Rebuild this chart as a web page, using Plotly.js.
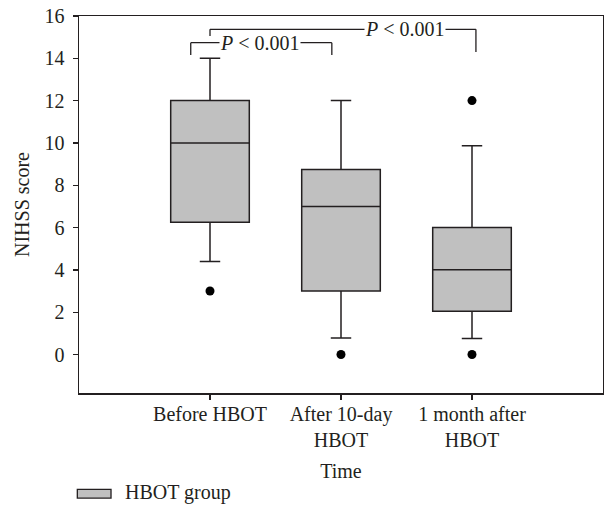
<!DOCTYPE html>
<html>
<head>
<meta charset="utf-8">
<script src="https://cdn.plot.ly/plotly-3.0.1.min.js"></script>
<style>html,body{margin:0;padding:0;background:#fff;}#chart{width:604px;height:508px;}</style>
</head>
<body>
<div id="chart"></div>
<script>
const categories = ["Before HBOT", "After 10-day<br>HBOT", "1 month after<br>HBOT"];
const q1Values = [6.25, 3.0, 2.05];
const medianValues = [10, 7.0, 4.0];
const q3Values = [12, 8.75, 6.0];
const lowerWhisker = [4.4, 0.78, 0.76];
const upperWhisker = [14, 12, 9.87];
const outlierX = ["Before HBOT", "After 10-day<br>HBOT", "1 month after<br>HBOT", "1 month after<br>HBOT"];
const outlierY = [3, 0, 12, 0];
const yTicks = [0, 2, 4, 6, 8, 10, 12, 14, 16];
const seriesName = "HBOT group";
const pLabel = "<i>P</i> &lt; 0.001";
// brackets: [left x, right x, top y, left leg bottom, right leg bottom, label x]
const bracket1 = [-0.147, 0.93, 14.74, 14.16, 14.16, 0.38];
const bracket2 = [0.0, 2.03, 15.37, 15.06, 14.3, 1.49];

const ink = "#231f20";
const font = {family: "Liberation Serif, Times New Roman, serif", size: 20, color: ink};

function bracketShapes(b) {
  const line = {color: ink, width: 1.3};
  return [
    {type: "line", xref: "x", yref: "y", x0: b[0], x1: b[0], y0: b[3], y1: b[2], line},
    {type: "line", xref: "x", yref: "y", x0: b[0], x1: b[1], y0: b[2], y1: b[2], line},
    {type: "line", xref: "x", yref: "y", x0: b[1], x1: b[1], y0: b[2], y1: b[4], line}
  ];
}
function bracketLabel(b) {
  return {xref: "x", yref: "y", x: b[5], y: b[2], text: pLabel, showarrow: false,
    bgcolor: "#ffffff", borderpad: 0, font: font, xanchor: "center", yanchor: "middle"};
}

const traces = [
  {
    type: "box", name: seriesName, x: categories,
    q1: q1Values, median: medianValues, q3: q3Values,
    lowerfence: lowerWhisker, upperfence: upperWhisker,
    boxpoints: false, width: 0.6, whiskerwidth: 0.26,
    fillcolor: "#c0c0c0", line: {color: ink, width: 1.5},
    showlegend: false, hoverinfo: "skip"
  },
  {
    type: "scatter", mode: "markers", x: outlierX, y: outlierY,
    marker: {color: "#000000", size: 9}, showlegend: false, hoverinfo: "skip"
  }
];

// legend key (drawn as a box-style swatch like the original)
const legendShape = {type: "rect", xref: "paper", yref: "paper",
  x0: -0.0032, x1: 0.0611, y0: -0.2787, y1: -0.2556,
  fillcolor: "#c0c0c0", line: {color: ink, width: 1.3}};
const legendText = {xref: "paper", yref: "paper", x: 0.0834, y: -0.2636,
  xanchor: "left", yanchor: "middle", text: seriesName, showarrow: false, font: font};

const layout = {
  width: 604, height: 508,
  margin: {l: 79, r: 1, t: 16, b: 115.3},
  paper_bgcolor: "#fff", plot_bgcolor: "#fff",
  font: font,
  showlegend: false,
  xaxis: {
    type: "category", categoryorder: "array", categoryarray: categories,
    range: [-1, 3], showline: true, linecolor: ink, linewidth: 1.5, mirror: true,
    ticks: "outside", ticklen: 5, tickcolor: ink, tickwidth: 1.3, ticklabelstandoff: -3,
    showgrid: false, zeroline: false, tickfont: font, automargin: false,
    title: {text: "Time", font: font, standoff: 14}
  },
  yaxis: {
    range: [-1.82, 16], tickvals: yTicks, showline: true, linecolor: ink, linewidth: 1.5, mirror: true,
    ticks: "outside", ticklen: 5, tickcolor: ink, tickwidth: 1.3, ticklabelstandoff: 4,
    showgrid: false, zeroline: false, tickfont: font, automargin: false,
    title: {text: "NIHSS score", font: font, standoff: 9}
  },
  shapes: bracketShapes(bracket1).concat(bracketShapes(bracket2)).concat([legendShape]),
  annotations: [bracketLabel(bracket1), bracketLabel(bracket2), legendText]
};

Plotly.newPlot("chart", traces, layout, {staticPlot: true, displayModeBar: false});
</script>
</body>
</html>
